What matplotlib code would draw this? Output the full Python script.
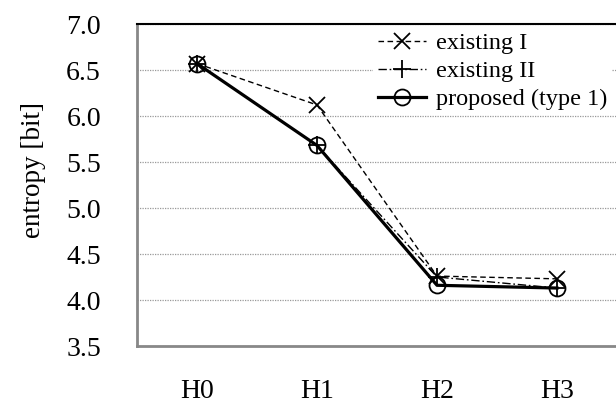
import matplotlib
matplotlib.use("Agg")
import matplotlib.pyplot as plt

categories = ["H0", "H1", "H2", "H3"]
existing_1 = [6.57, 6.12, 4.26, 4.23]
existing_2 = [6.57, 5.68, 4.25, 4.13]
proposed = [6.57, 5.68, 4.16, 4.13]
yticks = [3.5, 4.0, 4.5, 5.0, 5.5, 6.0, 6.5, 7.0]

plt.rcParams['font.family'] = ['Liberation Serif', 'DejaVu Serif']

fig = plt.figure(figsize=(6.16, 4.05), dpi=100)
ax = fig.add_axes([137/616, 59/405, 480/616, 322/405])

x = list(range(len(categories)))
ax.plot(x, existing_1, color='black', lw=1.0, ls=(0, (4, 2.5)), marker='x',
        ms=11, mew=1.3, label='existing I', zorder=3)
ax.plot(x, existing_2, color='black', lw=1.0, ls=(0, (6, 2, 1.2, 2)), marker='+',
        ms=13, mew=1.3, label='existing II', zorder=3)
ax.plot(x, proposed, color='black', lw=2.3, ls='-', marker='o', ms=11.5,
        mfc='none', mew=1.3, label='proposed (type 1)', zorder=4)

ax.set_xlim(-0.5, 3.5)
ax.set_ylim(3.5, 7.0)
ax.set_xticks(x)
ax.set_xticklabels(categories)
ax.set_yticks(yticks)
ax.set_yticklabels([f"{v:.1f}" for v in yticks])
ax.tick_params(axis='both', length=0, labelsize=20)
ax.tick_params(axis='y', pad=26)
ax.tick_params(axis='x', pad=24)

ax.yaxis.grid(True, color='#999999', ls=(0, (1, 1)), lw=0.9)
ax.set_axisbelow(True)

for s in ['left', 'bottom']:
    ax.spines[s].set_color('#888888')
    ax.spines[s].set_linewidth(2)
ax.spines['top'].set_color('black')
ax.spines['top'].set_linewidth(1.5)
ax.spines['right'].set_visible(False)

ax.set_ylabel('entropy [bit]', fontsize=19.5)
ax.yaxis.set_label_coords(-0.19, 0.547)

leg = ax.legend(loc='upper right', bbox_to_anchor=(0.99, 0.99), frameon=True,
                fontsize=17.5, handlelength=2.0, numpoints=1, labelspacing=0.25,
                handletextpad=0.4, borderaxespad=0, borderpad=0.2)
leg.get_frame().set_edgecolor('none')
leg.get_frame().set_facecolor('white')
leg.get_frame().set_alpha(1)

fig.savefig('out.png', dpi=100)
